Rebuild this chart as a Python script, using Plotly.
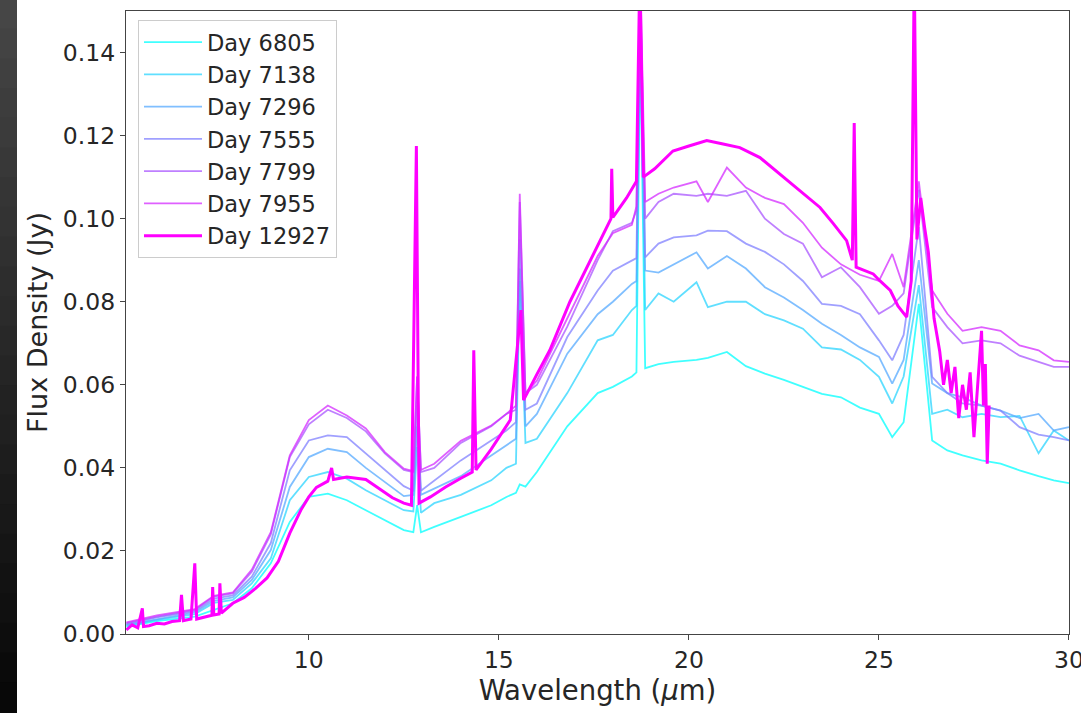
import plotly.graph_objects as go

# ---------------- data ----------------
day_labels = ["Day 6805", "Day 7138", "Day 7296", "Day 7555", "Day 7799", "Day 7955", "Day 12927"]

# common wavelength grid for the lower-resolution spectra (micron)
wave_lr = [5.2, 6.0, 7.0, 7.5, 8.0, 8.5, 9.0, 9.5, 10.0, 10.5, 11.0, 11.5, 12.0, 12.5,
           12.75, 12.85, 12.95, 13.3, 14.0, 14.8, 15.2, 15.45, 15.55, 15.7, 16.0, 16.8,
           17.6, 18.0, 18.5, 18.62, 18.72, 18.85, 19.2, 19.6, 20.2, 20.5, 21.0, 21.5,
           22.0, 22.5, 23.0, 23.5, 24.0, 24.5, 25.0, 25.35, 25.65, 26.05, 26.4, 26.8,
           27.2, 27.7, 28.2, 28.7, 29.2, 29.6, 30.0]

flux_6805 = [0.0018, 0.0031, 0.0042, 0.0058, 0.0074, 0.0110, 0.0170, 0.0270, 0.0330, 0.0338,
             0.0322, 0.0298, 0.0274, 0.0250, 0.0245, 0.0310, 0.0245, 0.0258, 0.0282, 0.0310,
             0.0330, 0.0340, 0.0360, 0.0355, 0.0390, 0.0500, 0.0580, 0.0595, 0.0620, 0.0630,
             0.1420, 0.0640, 0.0650, 0.0655, 0.0660, 0.0665, 0.0679, 0.0645, 0.0627, 0.0612,
             0.0595, 0.0578, 0.0570, 0.0545, 0.0530, 0.0474, 0.0510, 0.0795, 0.0466, 0.0442,
             0.0430, 0.0418, 0.0410, 0.0394, 0.0380, 0.0370, 0.0363]

flux_7138 = [0.0020, 0.0034, 0.0048, 0.0075, 0.0082, 0.0122, 0.0182, 0.0322, 0.0378, 0.0390,
             0.0374, 0.0346, 0.0322, 0.0298, 0.0295, 0.0450, 0.0292, 0.0315, 0.0335, 0.0370,
             0.0400, 0.0410, 0.0850, 0.0460, 0.0470, 0.0580, 0.0707, 0.0720, 0.0780, 0.0790,
             0.1450, 0.0780, 0.0820, 0.0800, 0.0847, 0.0787, 0.0800, 0.0800, 0.0770, 0.0755,
             0.0735, 0.0690, 0.0685, 0.0660, 0.0619, 0.0555, 0.0620, 0.0840, 0.0530, 0.0540,
             0.0522, 0.0530, 0.0522, 0.0525, 0.0435, 0.0490, 0.0466]

flux_7296 = [0.0022, 0.0036, 0.0052, 0.0080, 0.0088, 0.0130, 0.0202, 0.0354, 0.0426, 0.0446,
             0.0438, 0.0400, 0.0366, 0.0332, 0.0335, 0.0500, 0.0335, 0.0350, 0.0380, 0.0430,
             0.0455, 0.0470, 0.0880, 0.0500, 0.0530, 0.0675, 0.0770, 0.0800, 0.0843, 0.0850,
             0.1500, 0.0875, 0.0870, 0.0890, 0.0919, 0.0880, 0.0910, 0.0880, 0.0835, 0.0810,
             0.0780, 0.0747, 0.0720, 0.0690, 0.0667, 0.0603, 0.0660, 0.0900, 0.0603, 0.0580,
             0.0570, 0.0550, 0.0538, 0.0520, 0.0530, 0.0490, 0.0498]

flux_7555 = [0.0024, 0.0040, 0.0055, 0.0085, 0.0093, 0.0138, 0.0219, 0.0394, 0.0466, 0.0478,
             0.0474, 0.0434, 0.0394, 0.0356, 0.0345, 0.0550, 0.0345, 0.0370, 0.0418, 0.0466,
             0.0490, 0.0510, 0.0950, 0.0540, 0.0555, 0.0715, 0.0827, 0.0875, 0.0900, 0.0905,
             0.1550, 0.0907, 0.0940, 0.0955, 0.0960, 0.0971, 0.0970, 0.0940, 0.0920, 0.0890,
             0.0850, 0.0795, 0.0790, 0.0770, 0.0707, 0.0659, 0.0720, 0.0980, 0.0619, 0.0580,
             0.0555, 0.0550, 0.0538, 0.0498, 0.0480, 0.0474, 0.0466]

flux_7799 = [0.0026, 0.0042, 0.0058, 0.0090, 0.0098, 0.0150, 0.0240, 0.0426, 0.0505, 0.0540,
             0.0520, 0.0488, 0.0435, 0.0395, 0.0390, 0.0620, 0.0390, 0.0400, 0.0460, 0.0500,
             0.0530, 0.0540, 0.1040, 0.0580, 0.0600, 0.0740, 0.0900, 0.0970, 0.0990, 0.1020,
             0.1550, 0.1000, 0.1040, 0.1060, 0.1055, 0.1060, 0.1055, 0.1067, 0.1000, 0.0963,
             0.0940, 0.0859, 0.0883, 0.0835, 0.0771, 0.0790, 0.0820, 0.1070, 0.0787, 0.0739,
             0.0700, 0.0707, 0.0700, 0.0670, 0.0655, 0.0643, 0.0643]

flux_7955 = [0.0028, 0.0045, 0.0060, 0.0092, 0.0100, 0.0155, 0.0245, 0.0430, 0.0515, 0.0550,
             0.0526, 0.0495, 0.0438, 0.0398, 0.0392, 0.0620, 0.0395, 0.0410, 0.0465, 0.0502,
             0.0530, 0.0550, 0.1060, 0.0580, 0.0610, 0.0760, 0.0910, 0.0965, 0.0985, 0.1030,
             0.1600, 0.1040, 0.1060, 0.1075, 0.1090, 0.1040, 0.1123, 0.1075, 0.1050, 0.1035,
             0.0990, 0.0930, 0.0890, 0.0865, 0.0850, 0.0915, 0.0835, 0.1090, 0.0827, 0.0771,
             0.0730, 0.0739, 0.0730, 0.0695, 0.0683, 0.0659, 0.0655]

# high-resolution spectrum for Day 12927
wave_12927 = [5.2, 5.35, 5.5, 5.62, 5.65, 5.8, 6.0, 6.2, 6.4, 6.6, 6.65, 6.7, 6.9, 7.0, 7.05,
              7.2, 7.45, 7.47, 7.5, 7.64, 7.66, 7.7, 8.0, 8.3, 8.6, 8.9, 9.2, 9.5, 9.8, 10.0,
              10.2, 10.5, 10.6, 10.65, 11.0, 11.5, 11.9, 12.2, 12.5, 12.7, 12.83, 12.9, 13.2,
              13.6, 14.0, 14.3, 14.34, 14.4, 14.8, 15.0, 15.3, 15.58, 15.65, 16.0, 16.34,
              16.87, 17.3, 17.66, 17.95, 17.97, 18.0, 18.36, 18.62, 18.71, 18.8, 19.1, 19.58,
              20.0, 20.47, 20.9, 21.34, 21.87, 22.39, 22.92, 23.45, 23.8, 24.15, 24.3, 24.35,
              24.4, 24.85, 25.03, 25.3, 25.5, 25.73, 25.85, 25.93, 26.0, 26.1, 26.2, 26.3,
              26.45, 26.6, 26.7, 26.8, 26.9, 27.0, 27.1, 27.2, 27.3, 27.4, 27.5, 27.6, 27.7,
              27.75, 27.8, 27.85, 27.9]
flux_12927 = [0.0010, 0.0022, 0.0015, 0.0062, 0.0018, 0.0020, 0.0026, 0.0024, 0.0030, 0.0032,
              0.0094, 0.0032, 0.0036, 0.0170, 0.0036, 0.0040, 0.0045, 0.0113, 0.0046, 0.0048,
              0.0122, 0.0050, 0.0074, 0.0088, 0.0110, 0.0135, 0.0175, 0.0243, 0.0300, 0.0330,
              0.0353, 0.0368, 0.0400, 0.0372, 0.0378, 0.0372, 0.0346, 0.0328, 0.0315, 0.0310,
              0.1175, 0.0315, 0.0330, 0.0354, 0.0375, 0.0390, 0.0683, 0.0395, 0.0445, 0.0474,
              0.0515, 0.0780, 0.0563, 0.0625, 0.0683, 0.0800, 0.0880, 0.0947, 0.1000, 0.1120,
              0.1003, 0.1050, 0.1090, 0.1600, 0.1100, 0.1120, 0.1163, 0.1175, 0.1188, 0.1180,
              0.1171, 0.1147, 0.1108, 0.1067, 0.1027, 0.0988, 0.0947, 0.0900, 0.1230, 0.0883,
              0.0867, 0.0850, 0.0827, 0.0790, 0.0763, 0.0850, 0.1600, 0.0950, 0.1050, 0.0980,
              0.0920, 0.0760, 0.0680, 0.0600, 0.0660, 0.0580, 0.0643, 0.0520, 0.0600, 0.0540,
              0.0630, 0.0474, 0.0600, 0.0730, 0.0550, 0.0650, 0.0410, 0.0550]

x_ticks = [10, 15, 20, 25, 30]
y_ticks = [0.00, 0.02, 0.04, 0.06, 0.08, 0.10, 0.12, 0.14]

# ---------------- figure ----------------
W, H = 1081, 713
L, R, T, B = 126, 12, 11, 79
pw, ph = W - L - R, H - T - B

series = [
    (wave_lr, flux_6805, "rgba(0,255,255,0.75)", 1.8),
    (wave_lr, flux_7138, "rgba(43,212,255,0.75)", 1.8),
    (wave_lr, flux_7296, "rgba(85,170,255,0.75)", 1.8),
    (wave_lr, flux_7555, "rgba(128,128,255,0.75)", 1.8),
    (wave_lr, flux_7799, "rgba(170,85,255,0.75)", 1.8),
    (wave_lr, flux_7955, "rgba(212,43,255,0.75)", 1.8),
    (wave_12927, flux_12927, "rgba(255,0,255,1)", 3.0),
]

fig = go.Figure()
for (xs, ys, col, lw), name in zip(series, day_labels):
    fig.add_trace(go.Scatter(x=xs, y=ys, mode="lines", name=name,
                             line=dict(color=col, width=lw)))

# dark strip on the left edge of the page (gradient imitation, overlapping bands)
n_bands = 24
for i in range(n_bands):
    y0_px = H * i / n_bands - 1
    y1_px = H * (i + 1) / n_bands + 1
    g = int(70 - 62 * i / (n_bands - 1))
    fig.add_shape(type="rect", xref="paper", yref="paper", layer="below",
                  x0=(-2 - L) / pw, x1=(17 - L) / pw,
                  y0=(H - B - y1_px) / ph, y1=(H - B - y0_px) / ph,
                  fillcolor=f"rgb({g},{g},{g})", line=dict(width=0))

axis_common = dict(showgrid=False, zeroline=False, showline=True, mirror=True,
                   linecolor="#444444", linewidth=1.3, ticks="outside", ticklen=5,
                   tickcolor="#444444", tickwidth=1.2, ticklabeloverflow="allow",
                   automargin=False,
                   tickfont=dict(family="DejaVu Sans", size=23.5, color="#262626"))

fig.update_xaxes(range=[5.19, 30.001], tickvals=x_ticks,
                 title=dict(text="Wavelength (<i>μ</i>m)", standoff=3,
                            font=dict(family="DejaVu Sans", size=27.5, color="#262626")),
                 **axis_common)
fig.update_yaxes(range=[0, 0.15], tickvals=y_ticks, tickformat=".2f",
                 title=dict(text="Flux Density (Jy)", standoff=7,
                            font=dict(family="DejaVu Sans", size=27, color="#262626")),
                 **axis_common)

fig.update_layout(
    width=W, height=H,
    margin=dict(l=L, r=R, t=T, b=B, autoexpand=False),
    paper_bgcolor="white", plot_bgcolor="white",
    showlegend=True,
    legend=dict(x=(138 - L) / pw, y=1 - (20 - T) / ph, xanchor="left", yanchor="top",
                bgcolor="white", bordercolor="#cccccc", borderwidth=1,
                font=dict(family="DejaVu Sans", size=22.5, color="#262626"),
                itemwidth=58, tracegroupgap=0),
)

fig.write_html("out.html")
